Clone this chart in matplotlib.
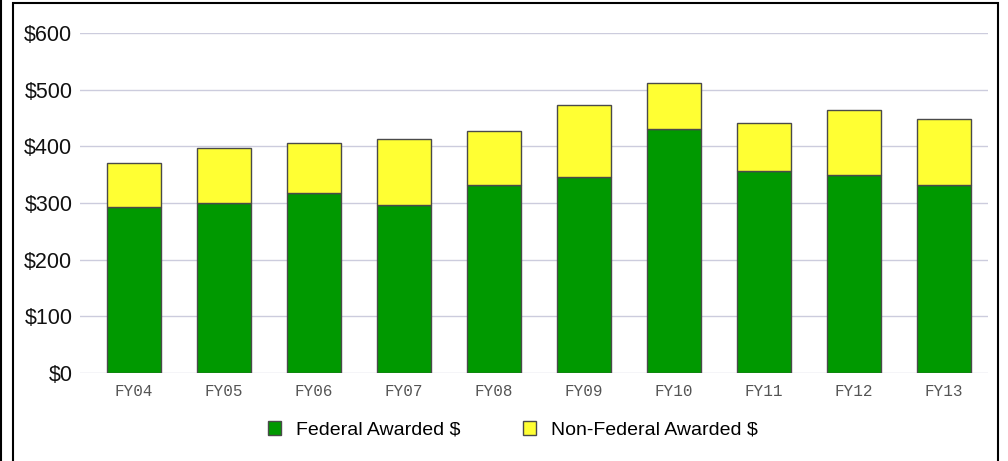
import matplotlib.pyplot as plt
from matplotlib.patches import Rectangle
from matplotlib.lines import Line2D

# data (millions of $)
years = ['FY04', 'FY05', 'FY06', 'FY07', 'FY08', 'FY09', 'FY10', 'FY11', 'FY12', 'FY13']
federal = [293, 300, 318, 296, 332, 346, 430, 356, 349, 331]
non_federal = [78, 97, 88, 117, 95, 127, 81, 86, 116, 118]

green = '#009900'
yellow = '#ffff33'
edge = '#4a4a4a'

fig = plt.figure(figsize=(10.08, 4.61), dpi=100)
W, H = 1008, 461
ax = fig.add_axes([80 / W, 1 - 373 / H, (988 - 80) / W, (373 - 33) / H])

x = range(len(years))
ax.bar(x, federal, width=0.6, color=green, edgecolor=edge, linewidth=1, zorder=3)
ax.bar(x, non_federal, width=0.6, bottom=federal, color=yellow, edgecolor=edge,
       linewidth=1, zorder=3)

ax.set_xlim(-0.6, 9.49)
ax.set_ylim(0, 600)
ax.set_yticks(range(0, 601, 100))
ax.set_yticklabels(['$%d' % v for v in range(0, 601, 100)],
                   fontsize=15.5, family='Liberation Sans', color='#111111')
ax.set_xticks(list(x))
ax.set_xticklabels(years, fontsize=11.5, family='Liberation Mono', color='#555555')
ax.tick_params(axis='both', length=0)
ax.tick_params(axis='y', pad=5.5)
ax.tick_params(axis='x', pad=8)
for s in ax.spines.values():
    s.set_visible(False)
ax.yaxis.grid(True, color='#ccccdd', linewidth=1, zorder=0)
ax.set_axisbelow(True)

# legend
handles = [Rectangle((0, 0), 1, 1, facecolor=green, edgecolor=edge),
           Rectangle((0, 0), 1, 1, facecolor=yellow, edgecolor=edge)]
fig.legend(handles, ['Federal Awarded $', 'Non-Federal Awarded $'],
           loc='center', bbox_to_anchor=(513 / W, 1 - 430 / H), ncol=2,
           frameon=False, prop={'family': 'Liberation Sans', 'size': 14},
           handlelength=0.67, handleheight=0.67, handletextpad=0.77, columnspacing=3.2)

# frame around the chart
fig.patches.append(Rectangle((13 / W, -0.1), (998 - 13) / W, 1.1 - 3 / H,
                             transform=fig.transFigure, fill=False,
                             edgecolor='black', linewidth=1.5))
fig.lines.append(Line2D([0.5 / W, 0.5 / W], [0, 1], transform=fig.transFigure,
                        color='black', linewidth=1.5))

fig.savefig('out.png', dpi=100)
